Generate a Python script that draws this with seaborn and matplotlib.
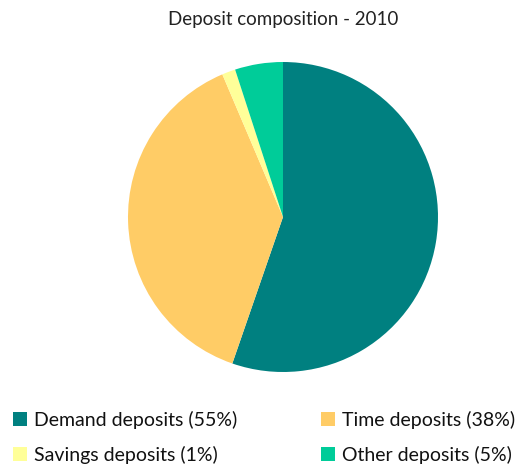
import seaborn as sns
import matplotlib.pyplot as plt
from matplotlib.patches import Patch

# deposit shares (in %)
categories = ["Demand deposits", "Time deposits", "Savings deposits", "Other deposits"]
shares = [55.3, 38.3, 1.4, 5.0]
label_pct = [55, 38, 1, 5]
colors = ["#008080", "#FFCC66", "#FFFF99", "#00CC99"]

sns.set_theme(style="white")
plt.rcParams["font.family"] = ["Lato", "DejaVu Sans"]

fig = plt.figure(figsize=(5.17, 4.66), dpi=100)
W, H = 517, 466
cx, cy, r = 283, 217, 155
ax = fig.add_axes([(cx - r) / W, (H - cy - r) / H, 2 * r / W, 2 * r / H])

pal = sns.color_palette(colors)
ax.pie(shares, colors=pal, startangle=90, counterclock=False,
       radius=1, wedgeprops=dict(linewidth=0))
ax.set_xlim(-1, 1)
ax.set_ylim(-1, 1)
ax.set_aspect("equal")
ax.axis("off")

fig.text(cx / W, 1 - 20 / H, "Deposit composition - 2010", ha="center", va="center",
         fontsize=13.5, color="#222222")

handles = [Patch(facecolor=c, edgecolor="none") for c in pal]
labels = [f"{n} ({p}%)" for n, p in zip(categories, label_pct)]
# legend fills column by column, reorder so it reads row by row
order = [0, 2, 1, 3]
fig.legend([handles[i] for i in order], [labels[i] for i in order], ncol=2,
           loc="upper left", bbox_to_anchor=(-5 / W, 1 - 393 / H), frameon=False,
           fontsize=14, handlelength=0.75, handleheight=0.75, handletextpad=0.35,
           columnspacing=4.3, labelspacing=0.9, labelcolor="#111111")

fig.savefig("out.png", dpi=100)
